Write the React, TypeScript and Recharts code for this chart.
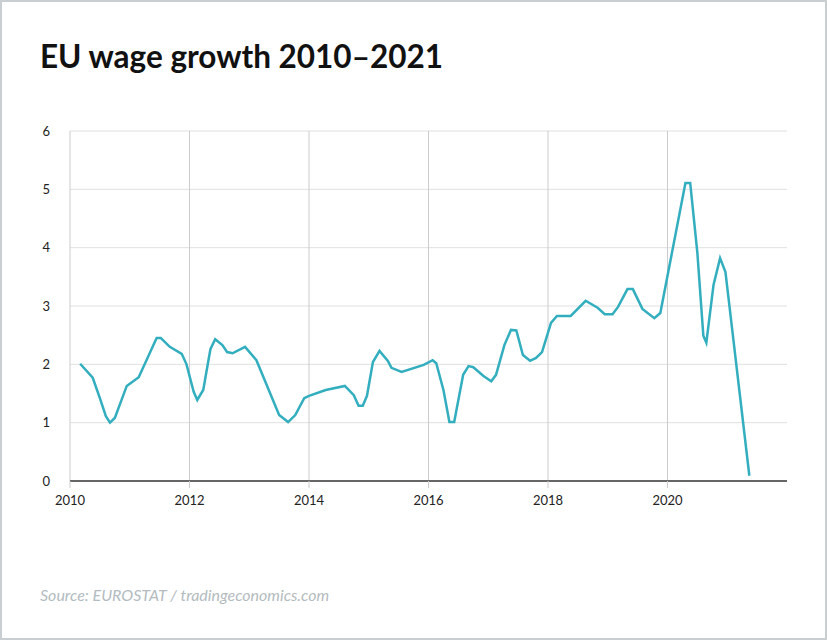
import React from 'react';
import { LineChart, Line, XAxis, YAxis, CartesianGrid, ReferenceLine } from 'recharts';

const periods = [
    2010.17, 2010.38, 2010.5, 2010.6, 2010.67, 2010.75, 2010.95, 2011.15, 2011.45, 2011.52,
    2011.67, 2011.87, 2011.95, 2012.07, 2012.13, 2012.23, 2012.35, 2012.43, 2012.55, 2012.63,
    2012.72, 2012.93, 2013.12, 2013.5, 2013.65, 2013.77, 2013.92, 2014.0, 2014.28, 2014.6,
    2014.75, 2014.83, 2014.9, 2014.97, 2015.07, 2015.18, 2015.32, 2015.38, 2015.55, 2015.92,
    2016.07, 2016.13, 2016.25, 2016.35, 2016.43, 2016.58, 2016.67, 2016.75, 2016.92, 2017.05,
    2017.13, 2017.27, 2017.38, 2017.47, 2017.58, 2017.7, 2017.8, 2017.9, 2018.05, 2018.15,
    2018.38, 2018.63, 2018.83, 2018.95, 2019.08, 2019.17, 2019.33, 2019.42, 2019.58, 2019.78,
    2019.88, 2020.3, 2020.38, 2020.5, 2020.6, 2020.65, 2020.77, 2020.88, 2020.97, 2021.37,
];

// wage growth, %
const wageGrowth = [
    2.01, 1.77, 1.42, 1.11, 1.0, 1.08, 1.63, 1.78, 2.45, 2.45,
    2.3, 2.18, 2.0, 1.53, 1.39, 1.56, 2.26, 2.43, 2.33, 2.21,
    2.19, 2.3, 2.07, 1.13, 1.01, 1.13, 1.42, 1.46, 1.56, 1.63,
    1.47, 1.29, 1.29, 1.46, 2.04, 2.23, 2.06, 1.94, 1.87, 1.99,
    2.07, 2.02, 1.56, 1.01, 1.01, 1.82, 1.97, 1.95, 1.8, 1.71,
    1.82, 2.33, 2.59, 2.58, 2.16, 2.06, 2.11, 2.21, 2.71, 2.83,
    2.83, 3.09, 2.97, 2.86, 2.86, 2.98, 3.29, 3.29, 2.95, 2.79,
    2.88, 5.11, 5.11, 3.91, 2.49, 2.37, 3.36, 3.82, 3.58, 0.09,
];

const xTicks = [2010, 2012, 2014, 2016, 2018, 2020];
const yTicks = [0, 1, 2, 3, 4, 5, 6];

const data = periods.map((p, i) => ({ period: p, value: wageGrowth[i] }));

const FONT = 'Lato, "Open Sans", sans-serif';

export default function App() {
    return (
        <div
            style={{
                position: 'absolute',
                left: 0,
                top: 0,
                width: 827,
                height: 640,
                boxSizing: 'border-box',
                border: '2px solid #c8ced2',
                background: '#fff',
                fontFamily: FONT,
            }}
        >
            <div
                style={{
                    position: 'absolute',
                    left: 38,
                    top: 35,
                    fontSize: 31.5,
                    fontWeight: 700,
                    color: '#111',
                    lineHeight: '38px',
                }}
            >
                EU wage growth 2010–2021
            </div>

            <div style={{ position: 'absolute', left: -2, top: -2 }}>
                <LineChart
                    width={827}
                    height={640}
                    data={data}
                    margin={{ top: 131, right: 40, bottom: 129, left: 40 }}
                >
                    <CartesianGrid vertical={false} stroke="#e0e0e0" strokeWidth={1} />
                    {xTicks.map((t) => (
                        <ReferenceLine key={t} x={t} stroke="#cccccc" strokeWidth={1} />
                    ))}
                    <XAxis
                        dataKey="period"
                        type="number"
                        domain={[2010, 2022]}
                        ticks={xTicks}
                        height={30}
                        axisLine={{ stroke: '#666', strokeWidth: 2 }}
                        tickLine={{ stroke: '#cccccc' }}
                        tickSize={7}
                        tickMargin={8}
                        tick={{ fill: '#222', fontSize: 13, fontFamily: FONT }}
                    />
                    <YAxis
                        type="number"
                        domain={[0, 6]}
                        ticks={yTicks}
                        width={30}
                        axisLine={false}
                        tickLine={false}
                        tickSize={0}
                        tickMargin={20}
                        tick={{ fill: '#222', fontSize: 13, fontFamily: FONT }}
                    />
                    <Line
                        type="linear"
                        dataKey="value"
                        stroke="#33aebf"
                        strokeWidth={2.5}
                        dot={false}
                        isAnimationActive={false}
                    />
                </LineChart>
            </div>

            <div
                style={{
                    position: 'absolute',
                    left: 38,
                    top: 583,
                    fontSize: 16,
                    fontStyle: 'italic',
                    color: '#b3bbc0',
                }}
            >
                Source: EUROSTAT / tradingeconomics.com
            </div>
        </div>
    );
}
